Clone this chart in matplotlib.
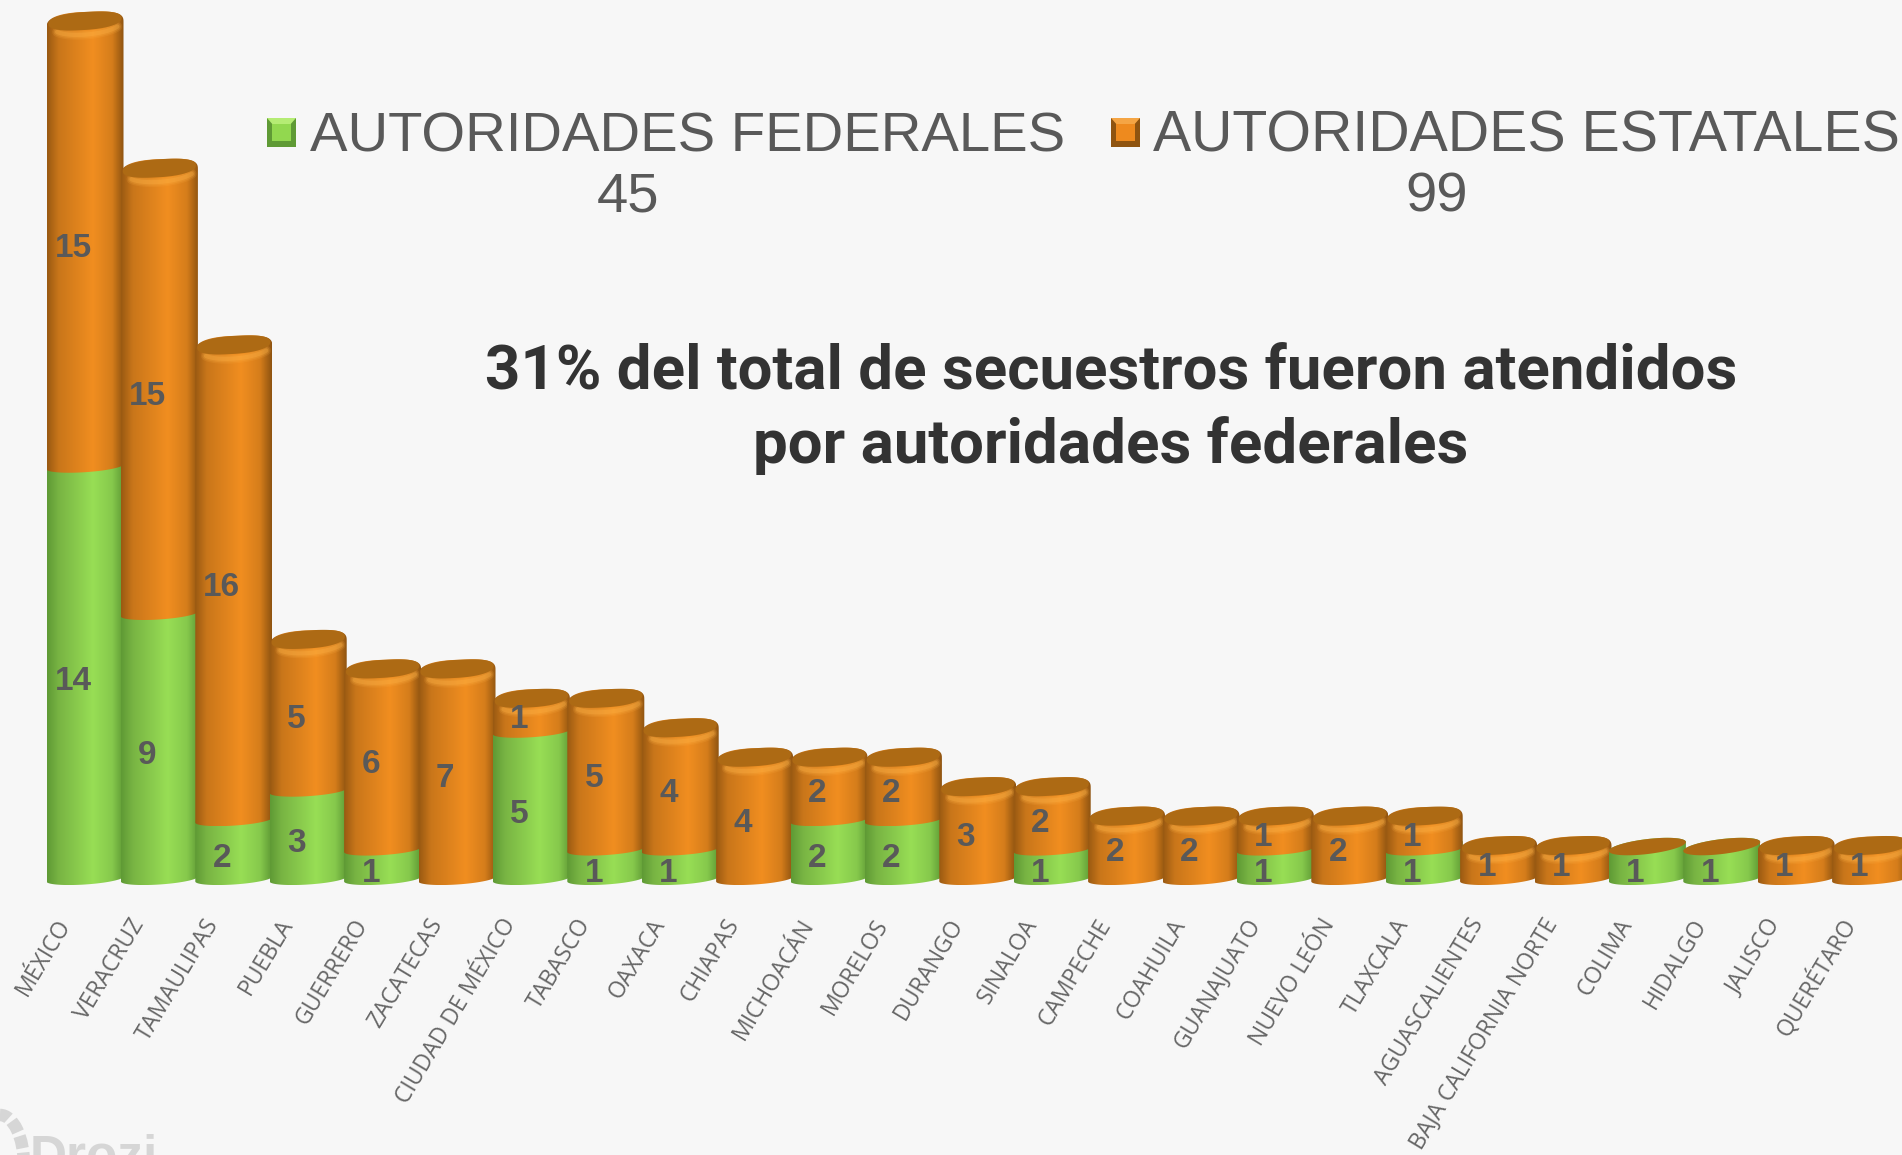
import numpy as np
import matplotlib
matplotlib.use("Agg")
import matplotlib.pyplot as plt
from matplotlib.colors import LinearSegmentedColormap
from matplotlib.patches import Arc, Polygon, Rectangle
from matplotlib.transforms import ScaledTranslation

states = ["MÉXICO", "VERACRUZ", "TAMAULIPAS", "PUEBLA", "GUERRERO", "ZACATECAS",
          "CIUDAD DE MÉXICO", "TABASCO", "OAXACA", "CHIAPAS", "MICHOACÁN", "MORELOS",
          "DURANGO", "SINALOA", "CAMPECHE", "COAHUILA", "GUANAJUATO", "NUEVO LEÓN",
          "TLAXCALA", "AGUASCALIENTES", "BAJA CALIFORNIA NORTE", "COLIMA", "HIDALGO",
          "JALISCO", "QUERÉTARO"]
federales = [14, 9, 2, 3, 1, 0, 5, 1, 1, 0, 2, 2, 0, 1, 0, 0, 1, 0, 1, 0, 0, 1, 1, 0, 0]
estatales = [15, 15, 16, 5, 6, 7, 1, 5, 4, 4, 2, 2, 3, 2, 2, 2, 1, 2, 1, 1, 1, 0, 0, 1, 1]

W, H = 1902, 1155
BG = "#f7f7f7"
TXT = "#595959"

# scale of the picture: pixels per bar and per unit of value
PX_X = 74.4
PX_Y = 29.45
X0 = 85
Y0 = 879
AX_BOTTOM = 890

green = LinearSegmentedColormap.from_list("g", [(0, "#5f9a35"), (0.15, "#78b443"), (0.6, "#98de55"), (0.85, "#86c94c"), (1, "#5f9a35")])
orange = LinearSegmentedColormap.from_list("o", [(0, "#9a5a12"), (0.15, "#c9761a"), (0.6, "#f18e20"), (0.85, "#d57d1b"), (1, "#8f5410")])
CAP = "#ad6a14"

# bar shape, in data units
A = 38.5 / PX_X
T = np.linspace(0, np.pi, 60)


def ell_y(cy, t, b, tilt):
    return cy + (b * np.sin(t) + tilt * np.cos(t)) / PX_Y


def shoulder(cx, cy, t, b, tilt, width=1.0, power=0.7):
    # squarer ellipse for the rounded top of the bars
    c, s = np.cos(t), np.sin(t)
    px = np.sign(c) * np.abs(c) ** power
    py = np.sign(s) * np.abs(s) ** power
    return cx + width * A * px, cy + (b * py + tilt * c) / PX_Y


def cylinder(ax, i, v0, v1, cmap, z, bevel):
    xb = i - A * np.cos(T)
    yb = v0 + (-5.5 * np.sin(T) - 2.5 * np.cos(T)) / PX_Y
    if bevel:
        xt, yt = shoulder(i, v1, T, 13, 3)
    else:
        xt = i + A * np.cos(T)
        yt = ell_y(v1 + 3 / PX_Y, T, 7.5, 4.5)
    xy = np.r_[np.c_[xb, yb], np.c_[xt, yt]]
    patch = Polygon(xy, closed=True, transform=ax.transData, fc="none", ec="none")
    ax.add_patch(patch)
    im = ax.imshow(np.linspace(0, 1, 128).reshape(1, -1), cmap=cmap, aspect="auto",
                   extent=(i - A, i + A, yb.min(), yt.max()), zorder=z, interpolation="bilinear")
    im.set_clip_path(patch)


def cap(ax, i, v, z, bevel):
    t = np.linspace(0, 2 * np.pi, 90)
    if bevel:
        # soft highlight along the front of the bevel
        tf = np.linspace(np.pi * 1.15, np.pi * 1.85, 40)
        xf = i + 0.88 * A * np.cos(tf) + 0.03
        yf = ell_y(v, tf, 9.5, 3)
        for lw, al in zip([7, 5, 3], [0.14, 0.2, 0.3]):
            ax.plot(xf, yf, color="#ffb347", lw=lw, alpha=al, zorder=z + 0.1, solid_capstyle="round")
        x, y = shoulder(i, v + 4 / PX_Y, t, 9, 3, width=0.95, power=0.85)
    else:
        x = i + A * np.cos(t)
        y = ell_y(v + 3 / PX_Y, t, 7.5, 4.5)
    ax.add_patch(Polygon(np.c_[x, y], closed=True, fc=CAP, ec="none", zorder=z + 0.2))


fig = plt.figure(figsize=(W / 100, H / 100), dpi=100, facecolor=BG)
ax = fig.add_axes([0, 1 - AX_BOTTOM / H, 1, AX_BOTTOM / H], facecolor="none")

x = np.arange(len(states))
for i in x:
    fed, est = federales[i], estatales[i]
    z = 2 + i
    if fed > 0:
        cylinder(ax, i, 0, fed, green, z, False)
    if est > 0:
        cylinder(ax, i, fed, fed + est, orange, z + 0.05, True)
    cap(ax, i, fed + est, z, est > 0)

# data labels, a bit to the left of the bar centre
for i in x:
    fed, est = federales[i], estatales[i]
    if fed > 0:
        ax.text(i - 0.16, fed / 2 - 0.3, str(fed), ha="center", va="center", color=TXT, zorder=40,
                fontsize=24, fontweight="bold", family="Liberation Sans")
    if est > 0:
        ax.text(i - 0.16, fed + est / 2 - 0.1, str(est), ha="center", va="center", color=TXT, zorder=40,
                fontsize=24, fontweight="bold", family="Liberation Sans")

ax.set_xlim(-X0 / PX_X, (W - X0) / PX_X)
ax.set_ylim((Y0 - AX_BOTTOM) / PX_Y, Y0 / PX_Y)
for s in ax.spines.values():
    s.set_visible(False)
ax.set_yticks([])
ax.set_xticks(x)
ax.set_xticklabels(states, rotation=59, ha="right", va="center", rotation_mode="anchor",
                   fontsize=16.5, color="#666666", family="Open Sans")
ax.tick_params(axis="x", length=0, pad=22)
shift = ScaledTranslation(-20 / 100, 0, fig.dpi_scale_trans)
for lab in ax.get_xticklabels():
    lab.set_transform(lab.get_transform() + shift)


# legend, written out because of the totals under each entry
def legend_square(px, py, c_mid, c_light, c_dark):
    s = 29
    fx, fy = px / W, 1 - (py + s) / H
    sw, sh = s / W, s / H
    fig.add_artist(Rectangle((fx, fy), sw, sh, transform=fig.transFigure, fc=c_dark, ec="none"))
    fig.add_artist(Polygon([(fx, fy + sh), (fx + sw, fy + sh), (fx + 0.78 * sw, fy + 0.75 * sh), (fx + 0.22 * sw, fy + 0.75 * sh)],
                           transform=fig.transFigure, fc=c_light, ec="none"))
    fig.add_artist(Rectangle((fx + 0.18 * sw, fy + 0.2 * sh), 0.64 * sw, 0.58 * sh, transform=fig.transFigure, fc=c_mid, ec="none"))


legend_square(267, 118, "#92d84f", "#b5ec74", "#5f9a35")
legend_square(1111, 118, "#ee8a1e", "#f5a544", "#8f5410")
for label, lx, total, tx, size in [("AUTORIDADES FEDERALES", 310, "45", 628, 40.5),
                                   ("AUTORIDADES ESTATALES", 1153, "99", 1437, 41.2)]:
    fig.text(lx / W, 1 - 151 / H, label, fontsize=size, color=TXT, family="Liberation Sans", va="baseline")
    fig.text(tx / W, 1 - 212 / H, total, fontsize=40.5, color=TXT, family="Liberation Sans", ha="center", va="baseline")

fig.text(1111 / W, 1 - 390 / H, "31% del total de secuestros fueron atendidos", fontsize=44.5, fontweight="bold",
         color="#333333", family="Roboto", ha="center", va="baseline")
fig.text(1111 / W, 1 - 463 / H, "por autoridades federales", fontsize=44.5, fontweight="bold",
         color="#333333", family="Roboto", ha="center", va="baseline")

# cropped logo in the bottom left corner
fig.text(30 / W, 1 - 1172 / H, "Drozi", fontsize=37, fontweight="bold", color="#d6d6d6", family="Liberation Sans", va="baseline")
fig.add_artist(Arc((0, 1 - 1165 / H), 2 * 24 / W, 2 * 50 / H, theta1=0, theta2=90, transform=fig.transFigure,
                   color="#d6d6d6", lw=9, linestyle=(0, (1.0, 0.35))))

fig.savefig("out.png", dpi=100, facecolor=BG)
